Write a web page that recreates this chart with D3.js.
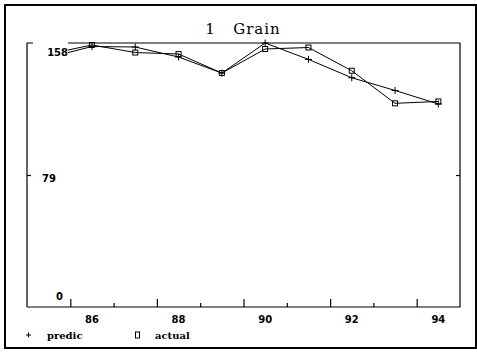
<!DOCTYPE html>
<html>
<head>
<meta charset="utf-8">
<script src="https://cdn.jsdelivr.net/npm/d3@7"></script>
<style>
  html, body { margin: 0; padding: 0; background: #fff; }
  svg { display: block; }
</style>
</head>
<body>
<svg id="chart" width="477" height="354"></svg>
<script>
// ---- data ----
const years = [85, 86, 87, 88, 89, 90, 91, 92, 93, 94];
const predic = [149.3, 155.9, 155.6, 149.6, 140.0, 158.0, 148.2, 137.2, 129.6, 121.5];
const actual = [151.4, 156.8, 152.3, 151.4, 140.0, 154.4, 155.3, 141.4, 121.9, 123.0];
const yTickValues = [0, 79, 158];
const xLabelYears = [86, 88, 90, 92, 94];
const xMajorTicks = [85.5, 87.5, 89.5, 91.5, 93.5];
const xMinorTicks = [86.5, 88.5, 90.5, 92.5];
const titleText = "1   Grain";
const seriesNames = ["predic", "actual"];

// ---- layout ----
const svg = d3.select("#chart");
const L = 27, R = 460, T = 43, B = 307;
const x = d3.scaleLinear().domain([84.5, 94.5]).range([L, R]);
const y = d3.scaleLinear().domain([0, 158]).range([B, T]);

const tickFont = "DejaVu Sans, sans-serif";
const serifFont = "DejaVu Serif, serif";

// outer border
svg.append("rect")
  .attr("x", 5).attr("y", 5).attr("width", 471).attr("height", 343)
  .attr("fill", "none").attr("stroke", "#000").attr("stroke-width", 2);

// title
svg.append("text")
  .attr("x", 243).attr("y", 34)
  .attr("text-anchor", "middle")
  .style("white-space", "pre")
  .attr("font-family", serifFont)
  .attr("font-size", 15)
  .attr("letter-spacing", 1)
  .text(titleText);

// series lines
const line = d3.line().x((d, i) => x(years[i])).y(d => y(d));
const plot = svg.append("g");
plot.append("path").datum(predic).attr("d", line)
  .attr("fill", "none").attr("stroke", "#000").attr("stroke-width", 1);
plot.append("path").datum(actual).attr("d", line)
  .attr("fill", "none").attr("stroke", "#000").attr("stroke-width", 1);

// markers
function plus(g, cx, cy, s) {
  g.append("path")
    .attr("d", `M${cx - s},${cy}H${cx + s}M${cx},${cy - s}V${cy + s}`)
    .attr("stroke", "#000").attr("stroke-width", 1).attr("fill", "none");
}
function square(g, cx, cy, w, h) {
  g.append("rect")
    .attr("x", cx - w / 2).attr("y", cy - h / 2)
    .attr("width", w).attr("height", h)
    .attr("stroke", "#000").attr("stroke-width", 1).attr("fill", "none");
}
predic.forEach((v, i) => plus(plot, x(years[i]), y(v), 3.5));
actual.forEach((v, i) => square(plot, x(years[i]), y(v), 5, 5));

// frame
svg.append("path")
  .attr("d", `M${L},${B}V${T}H${R}V${B}H${L}`)
  .attr("fill", "none").attr("stroke", "#000").attr("stroke-width", 1.2);

// x ticks (pointing inward)
const xMaj = d3.axisBottom(x).tickValues(xMajorTicks).tickSize(-8).tickFormat("");
const xMin = d3.axisBottom(x).tickValues(xMinorTicks).tickSize(-4).tickFormat("");
[xMaj, xMin].forEach(ax => {
  const g = svg.append("g").attr("transform", `translate(0,${B})`).call(ax);
  g.select(".domain").remove();
  g.selectAll("line").attr("stroke", "#000").attr("stroke-width", 1.2);
});

// x labels (centred on years)
svg.append("g").selectAll("text").data(xLabelYears).join("text")
  .attr("x", d => x(d)).attr("y", 323)
  .attr("text-anchor", "middle")
  .attr("font-family", tickFont).attr("font-weight", "bold").attr("font-size", 10)
  .text(d => d);

// y ticks inward on both sides (only interior value)
const yl = d3.axisLeft(y).tickValues([79]).tickSize(-4).tickFormat("");
const yr = d3.axisRight(y).tickValues([79]).tickSize(-4).tickFormat("");
svg.append("g").attr("transform", `translate(${L},0)`).call(yl)
  .call(g => g.select(".domain").remove())
  .selectAll("line").attr("stroke", "#000").attr("stroke-width", 1.2);
svg.append("g").attr("transform", `translate(${R},0)`).call(yr)
  .call(g => g.select(".domain").remove())
  .selectAll("line").attr("stroke", "#000").attr("stroke-width", 1.2);

// y labels
const yLabelPos = { 0: { dx: 36, dy: -7.5 }, 79: { dx: 29, dy: 7 }, 158: { dx: 41, dy: 13 } };
const yl2 = svg.append("g");
// white box behind the top label (hides the start of the series)
yl2.append("rect").attr("x", 33).attr("y", 38).attr("width", 35).attr("height", 28).attr("fill", "#fff");
yl2.selectAll("text").data(yTickValues).join("text")
  .attr("x", d => L + yLabelPos[d].dx)
  .attr("y", d => y(d) + yLabelPos[d].dy)
  .attr("text-anchor", "end")
  .attr("font-family", tickFont).attr("font-weight", "bold").attr("font-size", 10)
  .text(d => d);

// legend
const lg = svg.append("g");
plus(lg, 28.5, 335, 2.5);
lg.append("text").attr("x", 47).attr("y", 339)
  .attr("font-family", serifFont).attr("font-weight", "bold").attr("font-size", 10)
  .text(seriesNames[0]);
square(lg, 137.5, 335, 4, 6);
lg.append("text").attr("x", 155).attr("y", 339)
  .attr("font-family", serifFont).attr("font-weight", "bold").attr("font-size", 10)
  .text(seriesNames[1]);
</script>
</body>
</html>
